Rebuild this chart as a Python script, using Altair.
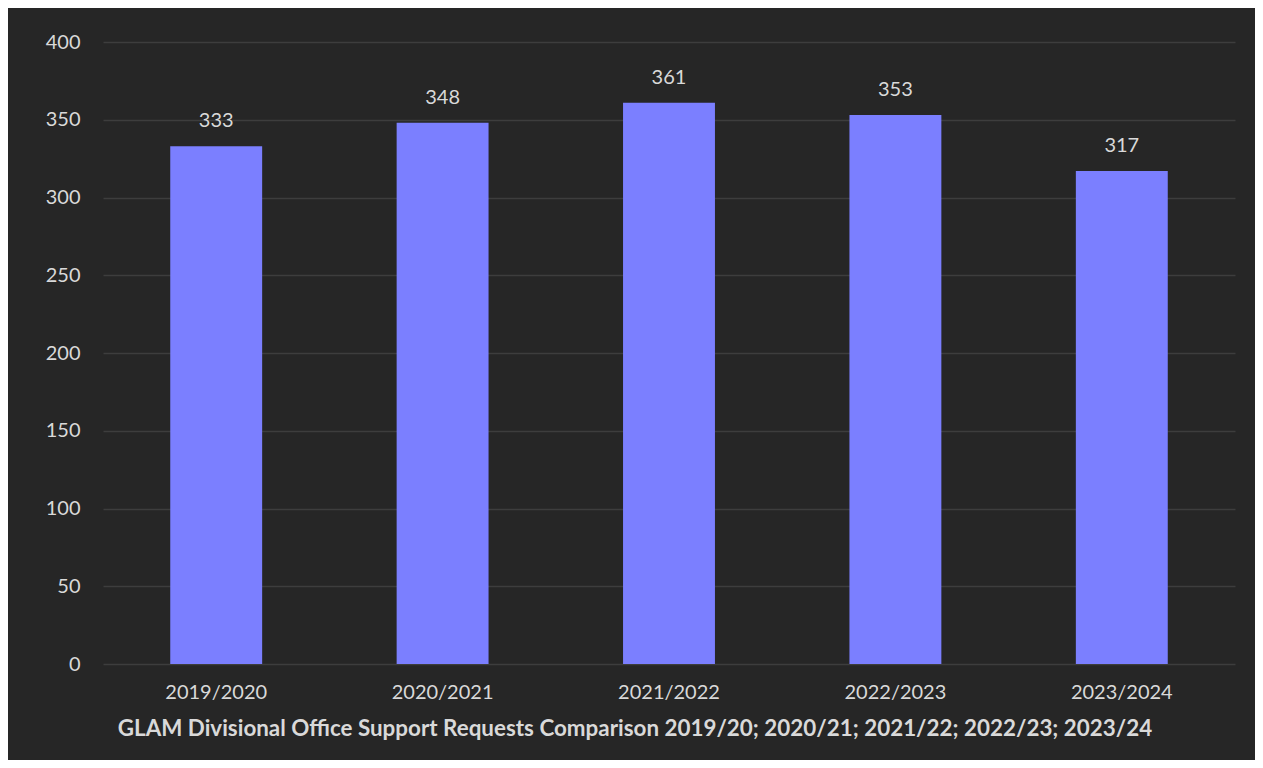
import altair as alt
import pandas as pd

years = ["2019/2020", "2020/2021", "2021/2022", "2022/2023", "2023/2024"]
requests = [333, 348, 361, 353, 317]

df = pd.DataFrame({"year": years, "requests": requests})

FONT = "Lato"
TXT = "#d9d9d9"

x = alt.X("year:N", sort=years, title=None,
          scale=alt.Scale(paddingInner=0.594, paddingOuter=0.297),
          axis=alt.Axis(labelAngle=0, labelFontSize=20, labelColor=TXT, labelFont=FONT,
                        ticks=False, domain=False, labelPadding=18))
y = alt.Y("requests:Q", title=None,
          scale=alt.Scale(domain=[0, 400], nice=False),
          axis=alt.Axis(values=[0, 50, 100, 150, 200, 250, 300, 350, 400],
                        labelFontSize=20, labelColor=TXT, labelFont=FONT,
                        ticks=False, domain=False, labelPadding=23,
                        gridColor="#3d3d3d", gridWidth=1.3))

bars = alt.Chart(df).mark_bar(color="#7b7fff").encode(x=x, y=y)
labels = alt.Chart(df).mark_text(dy=-25, fontSize=20, font=FONT, color=TXT, baseline="middle").encode(
    x=alt.X("year:N", sort=years), y="requests:Q", text="requests:Q")

chart = (bars + labels).properties(
    width=1132, height=622,
    background="#262626",
    padding={"left": 95, "top": 34, "right": 20, "bottom": 96},
    autosize=alt.AutoSizeParams(type="none"),
    title=alt.TitleParams(
        "GLAM Divisional Office Support Requests Comparison 2019/20; 2020/21; 2021/22; 2022/23; 2023/24",
        orient="bottom", anchor="middle", frame="group", dx=-34, offset=16,
        fontSize=22.4, font=FONT, fontWeight="bold", color=TXT),
).configure_view(stroke=None)

chart.save("out.html", embed_options={"renderer": "svg", "actions": False})
